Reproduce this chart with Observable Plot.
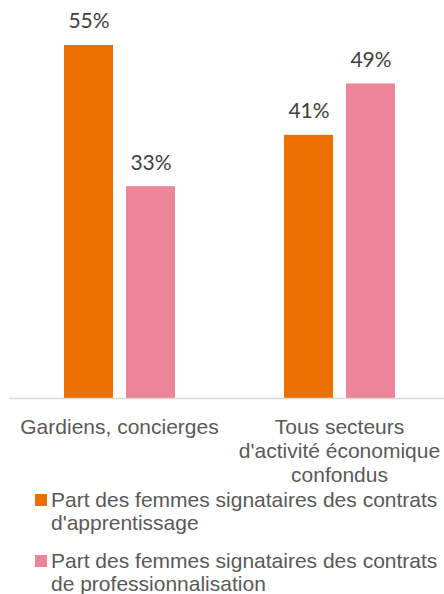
<!DOCTYPE html>
<html>
<head>
<meta charset="utf-8">
<script src="https://cdn.jsdelivr.net/npm/d3@7"></script>
<script src="https://cdn.jsdelivr.net/npm/@observablehq/plot@0.6"></script>
<style>
  html, body { margin: 0; padding: 0; background: #fff; overflow: hidden; }
  #chart svg { display: block; }
  .legend { font-family: "Liberation Sans", Arial, sans-serif; font-size: 21px; line-height: 23px; color: #595959; }
  .item { display: flex; align-items: flex-start; margin-left: 35px; width: 409px; }
  .item + .item { margin-top: 15px; }
  .swatch { flex: 0 0 12px; width: 12px; height: 12px; margin-top: 6px; margin-right: 4px; }
</style>
</head>
<body>
<div id="chart"></div>
<div id="legend" class="legend"></div>
<script>
const categories = ["Gardiens, concierges", "Tous secteurs d'activité économique confondus"];
const categoryLabels = ["Gardiens, concierges", "Tous secteurs\nd'activité économique\nconfondus"];
const series = [
  "Part des femmes signataires des contrats d'apprentissage",
  "Part des femmes signataires des contrats de professionnalisation"
];
const apprentissage = [55, 41];
const professionnalisation = [33, 49];
const colors = ["#ec7000", "#eb8597"];

const data = categories.flatMap((c, i) => [
  {cat: c, series: series[0], value: apprentissage[i]},
  {cat: c, series: series[1], value: professionnalisation[i]}
]);

const chart = Plot.plot({
  width: 444,
  height: 488,
  marginTop: 0,
  marginLeft: 9,
  marginRight: -5,
  marginBottom: 90,
  style: {fontFamily: "'Liberation Sans', Arial, sans-serif", background: "#fff"},
  fx: {domain: categories, padding: 0, label: null, axis: null},
  x: {domain: series, paddingInner: 0.21, paddingOuter: 0.86, axis: null},
  y: {domain: [0, 62], axis: null},
  color: {domain: series, range: colors},
  marks: [
    Plot.barY(data, {fx: "cat", x: "series", y: "value", fill: "series"}),
    Plot.text(data, {
      fx: "cat", x: "series", y: "value",
      text: d => d.value + "%",
      lineAnchor: "bottom", dy: -17,
      fontSize: 21, fontFamily: "Lato, 'Open Sans', sans-serif", fill: "#404040"
    }),
    Plot.ruleY([0], {stroke: "#d9d9d9", strokeWidth: 1.5}),
    Plot.axisFx({
      anchor: "bottom",
      tickSize: 0,
      tickPadding: 18,
      tickFormat: d => categoryLabels[categories.indexOf(d)],
      fontSize: 21,
      lineHeight: 1.15,
      fill: "#595959",
      label: null
    })
  ]
});
document.getElementById("chart").append(chart);

const legend = document.getElementById("legend");
series.forEach((s, i) => {
  const item = document.createElement("div");
  item.className = "item";
  const sw = document.createElement("span");
  sw.className = "swatch";
  sw.style.background = colors[i];
  const tx = document.createElement("span");
  tx.textContent = s;
  item.append(sw, tx);
  legend.append(item);
});
</script>
</body>
</html>
